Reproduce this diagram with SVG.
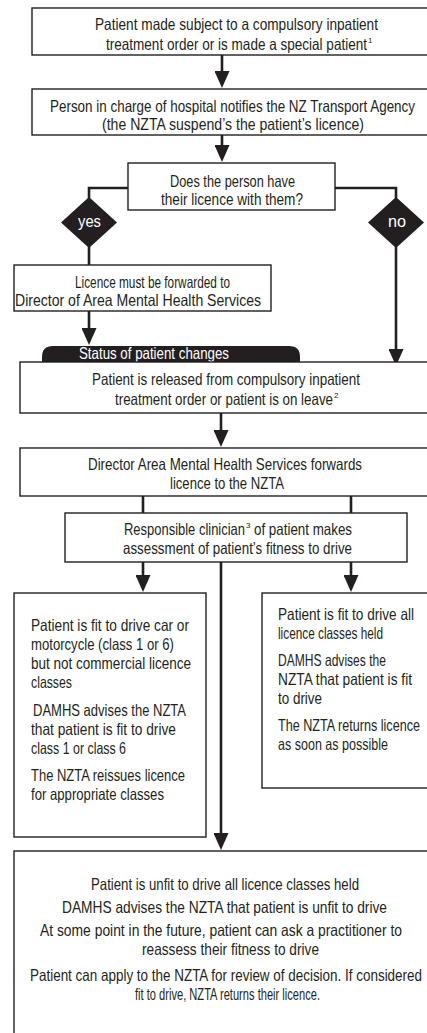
<svg xmlns="http://www.w3.org/2000/svg" width="427" height="1033" viewBox="0 0 427 1033">
<style>
  .box { fill: #ffffff; stroke: #231f20; stroke-width: 1.4; }
  .dia { fill: #231f20; }
  .t { font-family: "Liberation Sans", Arial, sans-serif; font-size: 16.5px; fill: #231f20; }
  .m { text-anchor: start; }
  .w { fill: #ffffff; }
  .sup { font-family: "Liberation Sans", Arial, sans-serif; font-size: 8px; fill: #231f20; }
  .con { fill: none; stroke: #231f20; stroke-width: 2.6; }
</style>
<defs>
  <marker id="arr" markerUnits="userSpaceOnUse" markerWidth="17" markerHeight="15" refX="9" refY="7.5" orient="auto" viewBox="0 0 17 15">
    <path d="M0,0 L17,7.5 L0,15 Z" fill="#231f20"/>
  </marker>
</defs>
<rect width="427" height="1033" fill="#ffffff"/>

<g id="connectors">
  <line class="con" x1="222" y1="55" x2="222" y2="80" marker-end="url(#arr)"/>
  <line class="con" x1="222" y1="135" x2="222" y2="154" marker-end="url(#arr)"/>
  <polyline class="con" points="128,188 89,188 89,198"/>
  <polyline class="con" points="335,188 396,188 396,198"/>
  <line class="con" x1="89" y1="247" x2="89" y2="265"/>
  <line class="con" x1="89" y1="311" x2="89" y2="337" marker-end="url(#arr)"/>
  <line class="con" x1="396" y1="247" x2="396" y2="358" marker-end="url(#arr)"/>
  <line class="con" x1="221" y1="413" x2="221" y2="439" marker-end="url(#arr)"/>
  <line class="con" x1="143" y1="496" x2="143" y2="513"/>
  <line class="con" x1="351" y1="496" x2="351" y2="513"/>
  <line class="con" x1="143" y1="562" x2="143" y2="584" marker-end="url(#arr)"/>
  <line class="con" x1="351" y1="562" x2="351" y2="584" marker-end="url(#arr)"/>
  <line class="con" x1="221" y1="562" x2="221" y2="842" marker-end="url(#arr)"/>
</g>

<g id="n1">
  <rect class="box" x="32" y="8" width="420" height="47"/>
  <text class="t m" x="95" y="30" textLength="283" lengthAdjust="spacingAndGlyphs">Patient made subject to a compulsory inpatient</text>
  <text class="t m" x="106" y="50" textLength="261" lengthAdjust="spacingAndGlyphs">treatment order or is made a special patient</text>
  <text class="sup" x="368" y="43">1</text>
</g>

<g id="n2">
  <rect class="box" x="32" y="89" width="420" height="46"/>
  <text class="t m" x="50" y="112" textLength="365" lengthAdjust="spacingAndGlyphs">Person in charge of hospital notifies the NZ Transport  Agency</text>
  <text class="t m" x="102" y="130" textLength="262" lengthAdjust="spacingAndGlyphs">(the NZTA suspend’s the patient’s licence)</text>
</g>

<g id="n3">
  <rect class="box" x="128" y="163" width="207" height="47"/>
  <text class="t m" x="170" y="187" textLength="125" lengthAdjust="spacingAndGlyphs">Does the person have</text>
  <text class="t m" x="161" y="205" textLength="142" lengthAdjust="spacingAndGlyphs">their licence with them?</text>
</g>

<g id="yes">
  <polygon class="dia" points="89,197 117,222.5 89,248 61,222.5"/>
  <text class="t w m" x="78" y="227" textLength="23" lengthAdjust="spacingAndGlyphs">yes</text>
</g>

<g id="no">
  <polygon class="dia" points="396,197 424,222.5 396,248 368,222.5"/>
  <text class="t w m" x="388" y="227" textLength="18" lengthAdjust="spacingAndGlyphs">no</text>
</g>

<g id="n4">
  <rect class="box" x="14" y="265" width="257" height="46"/>
  <text class="t m" x="75" y="288" textLength="155" lengthAdjust="spacingAndGlyphs">Licence must be forwarded to</text>
  <text class="t m" x="15" y="306" textLength="246" lengthAdjust="spacingAndGlyphs">Director  of Area Mental Health Services</text>
</g>

<g id="status">
  <path class="dia" d="M42,363 V357 Q42,346 53,346 H289 Q300,346 300,357 V363 Z"/>
  <text class="t w m" x="79" y="359" textLength="150" lengthAdjust="spacingAndGlyphs">Status of patient changes</text>
</g>

<g id="n5">
  <rect class="box" x="20" y="362" width="430" height="51"/>
  <text class="t m" x="92" y="385" textLength="268" lengthAdjust="spacingAndGlyphs">Patient is released from compulsory inpatient</text>
  <text class="t m" x="115" y="405" textLength="218" lengthAdjust="spacingAndGlyphs">treatment order or patient is on leave</text>
  <text class="sup" x="334" y="398">2</text>
</g>

<g id="n6">
  <rect class="box" x="20" y="448" width="430" height="48"/>
  <text class="t m" x="88" y="470" textLength="274" lengthAdjust="spacingAndGlyphs">Director Area Mental Health Services forwards</text>
  <text class="t m" x="170" y="489" textLength="114" lengthAdjust="spacingAndGlyphs">licence to the NZTA</text>
</g>

<g id="n7">
  <rect class="box" x="65" y="513" width="342" height="49"/>
  <text class="t m" x="124" y="535" textLength="121" lengthAdjust="spacingAndGlyphs">Responsible clinician</text>
  <text class="sup" x="246" y="528">3</text>
  <text class="t m" x="254" y="535" textLength="98" lengthAdjust="spacingAndGlyphs">of patient makes</text>
  <text class="t m" x="123" y="554" textLength="229" lengthAdjust="spacingAndGlyphs">assessment of patient’s fitness to drive</text>
</g>

<g id="n8">
  <rect class="box" x="14" y="593" width="192" height="244"/>
  <text class="t m" x="31" y="631" textLength="158" lengthAdjust="spacingAndGlyphs">Patient is fit to drive car or</text>
  <text class="t m" x="31" y="650" textLength="143" lengthAdjust="spacingAndGlyphs">motorcycle (class 1 or 6)</text>
  <text class="t m" x="31" y="669" textLength="160" lengthAdjust="spacingAndGlyphs">but not commercial licence</text>
  <text class="t m" x="31" y="688" textLength="41" lengthAdjust="spacingAndGlyphs">classes</text>
  <text class="t m" x="33" y="716" textLength="153" lengthAdjust="spacingAndGlyphs">DAMHS advises the NZTA</text>
  <text class="t m" x="31" y="735" textLength="145" lengthAdjust="spacingAndGlyphs">that patient is fit to drive</text>
  <text class="t m" x="31" y="754" textLength="95" lengthAdjust="spacingAndGlyphs">class 1 or class 6</text>
  <text class="t m" x="31" y="781" textLength="154" lengthAdjust="spacingAndGlyphs">The NZTA reissues licence</text>
  <text class="t m" x="31" y="800" textLength="133" lengthAdjust="spacingAndGlyphs">for appropriate classes</text>
</g>

<g id="n9">
  <rect class="box" x="262" y="593" width="190" height="195"/>
  <text class="t m" x="278" y="620" textLength="136" lengthAdjust="spacingAndGlyphs">Patient is fit to drive all</text>
  <text class="t m" x="278" y="639" textLength="105" lengthAdjust="spacingAndGlyphs">licence classes held</text>
  <text class="t m" x="278" y="666" textLength="108" lengthAdjust="spacingAndGlyphs">DAMHS advises the</text>
  <text class="t m" x="278" y="685" textLength="134" lengthAdjust="spacingAndGlyphs">NZTA that patient is fit</text>
  <text class="t m" x="278" y="704" textLength="44" lengthAdjust="spacingAndGlyphs">to drive</text>
  <text class="t m" x="278" y="731" textLength="142" lengthAdjust="spacingAndGlyphs">The NZTA returns licence</text>
  <text class="t m" x="278" y="750" textLength="110" lengthAdjust="spacingAndGlyphs">as soon as possible</text>
</g>

<g id="n10">
  <rect class="box" x="14" y="851" width="440" height="200"/>
  <text class="t m" x="91" y="890" textLength="268" lengthAdjust="spacingAndGlyphs">Patient is unfit to drive all licence classes held</text>
  <text class="t m" x="62" y="913" textLength="325" lengthAdjust="spacingAndGlyphs">DAMHS advises the NZTA that patient is unfit to drive</text>
  <text class="t m" x="40" y="936" textLength="362" lengthAdjust="spacingAndGlyphs">At some point in the future, patient can ask a practitioner to</text>
  <text class="t m" x="142" y="955" textLength="177" lengthAdjust="spacingAndGlyphs">reassess their fitness to drive</text>
  <text class="t m" x="30" y="981" textLength="392" lengthAdjust="spacingAndGlyphs">Patient can apply to the NZTA for review of decision. If considered</text>
  <text class="t m" x="135" y="1000" textLength="185" lengthAdjust="spacingAndGlyphs">fit to drive, NZTA returns their licence.</text>
</g>
</svg>
